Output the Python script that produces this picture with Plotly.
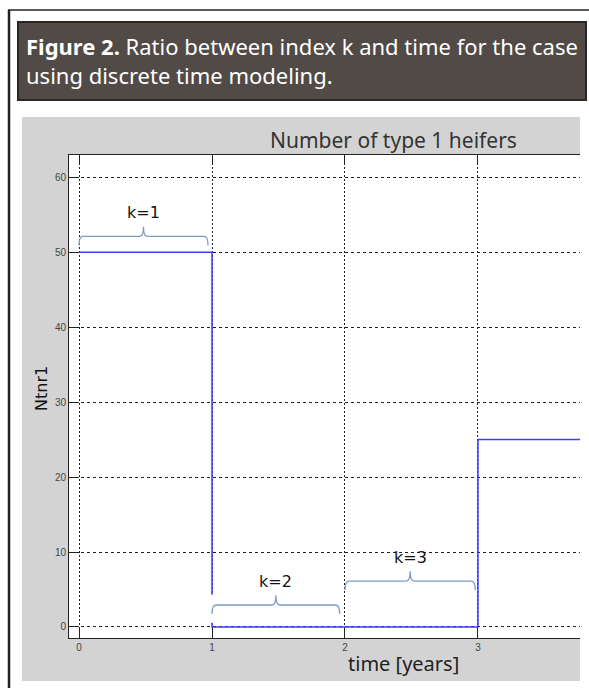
import plotly.graph_objects as go

# ---- data ----
time_years = [0, 1, 2, 3, 4]
ntnr1 = [50, 0, 0, 25, 25]
x_ticks = [0, 1, 2, 3]
y_ticks = [0, 10, 20, 30, 40, 50, 60]
k_labels = ["k=1", "k=2", "k=3"]
k_start = [0, 1, 2]
k_end = [1, 2, 3]

# ---- layout config ----
W, H = 589, 688
L, R, T, B = 69, 589 - 580, 155, 688 - 638
PW, PH = W - L - R, H - T - B

def px(xp):
    return (xp - L) / PW

def py(yp):
    return (H - B - yp) / PH

x_range = [-0.0752, 3.767]
y_range = [-1.47, 62.97]
brace_levels = [52.1, 2.93, 6.13]
brace_inset = [(0.0, 0.03), (0.0, 0.04), (0.0, 0.02)]

fig = go.Figure()
fig.add_trace(go.Scatter(
    x=time_years, y=ntnr1, mode="lines", line_shape="hv",
    line=dict(color="#3d3dff", width=1.5), hoverinfo="skip", showlegend=False))

shapes = []
# outer frame
shapes.append(dict(type="line", xref="paper", yref="paper", x0=px(9), x1=px(9), y0=py(10), y1=py(700),
                   line=dict(color="#222", width=2.5), layer="below"))
shapes.append(dict(type="line", xref="paper", yref="paper", x0=px(8), x1=px(600), y0=py(10), y1=py(10),
                   line=dict(color="#222", width=1.5), layer="below"))
# header box
shapes.append(dict(type="rect", xref="paper", yref="paper", x0=px(18), x1=px(586), y0=py(22), y1=py(100),
                   fillcolor="#524a47", line=dict(color="#2a2624", width=2), layer="below"))
# gray panel
shapes.append(dict(type="rect", xref="paper", yref="paper", x0=px(22), x1=px(580), y0=py(117), y1=py(681),
                   fillcolor="#d3d3d3", line=dict(width=0), layer="below"))
# white plot area
shapes.append(dict(type="rect", xref="paper", yref="paper", x0=0, x1=1, y0=0, y1=1,
                   fillcolor="white", line=dict(width=0), layer="below"))
# white mask where the k=2 brace image covers the line
shapes.append(dict(type="rect", xref="x", yref="y", x0=0.97, x1=1.03, y0=0.55, y1=4.3,
                   fillcolor="white", line=dict(width=0), layer="above"))

ex, d, u = 0.03, 1.2, 1.3
annotations = []
for lab, s, e, lev, (a, b) in zip(k_labels, k_start, k_end, brace_levels, brace_inset):
    x0, x1 = s + a, e - b
    xm = (x0 + x1) / 2
    path = (f"M {x0},{lev-d} Q {x0},{lev} {x0+ex},{lev} L {xm-ex},{lev} "
            f"Q {xm},{lev} {xm},{lev+u} Q {xm},{lev} {xm+ex},{lev} "
            f"L {x1-ex},{lev} Q {x1},{lev} {x1},{lev-d}")
    shapes.append(dict(type="path", xref="x", yref="y", path=path,
                       line=dict(color="#7c9cc6", width=1.3), layer="above"))
    annotations.append(dict(x=xm, y=lev, xref="x", yref="y", text=lab, showarrow=False,
                            xanchor="center", yanchor="middle", yshift=24,
                            font=dict(family="DejaVu Sans", size=16, color="#111")))

# header text
annotations.append(dict(x=px(24), y=py(61), xref="paper", yref="paper", xanchor="left", yanchor="middle",
                        align="left", showarrow=False,
                        text="<b>Figure 2.</b> Ratio between index k and time for the case<br>using discrete time modeling.",
                        font=dict(family="Noto Sans", size=22, color="white")))
# title
annotations.append(dict(x=px(393), y=py(140), xref="paper", yref="paper", showarrow=False,
                        text="Number of type 1 heifers", xanchor="center", yanchor="middle",
                        font=dict(family="Noto Sans", size=21, color="#333")))
# x title
annotations.append(dict(x=px(403), y=py(663), xref="paper", yref="paper", showarrow=False,
                        text="time [years]", xanchor="center", yanchor="middle",
                        font=dict(family="Noto Sans", size=20, color="#222")))
# y title
annotations.append(dict(x=px(41), y=py(389), xref="paper", yref="paper", showarrow=False,
                        text="Ntnr1", textangle=-90, xanchor="center", yanchor="middle",
                        font=dict(family="DejaVu Sans", size=16, color="#111")))

fig.update_layout(
    width=W, height=H, margin=dict(l=L, r=R, t=T, b=B),
    paper_bgcolor="white", plot_bgcolor="white",
    shapes=shapes, annotations=annotations, showlegend=False,
    xaxis=dict(range=x_range, tickvals=x_ticks, ticks="inside", ticklen=10, tickcolor="#222",
               showline=True, linecolor="#222", linewidth=1, mirror="ticks",
               showgrid=True, gridcolor="#222", griddash="2px,2px", gridwidth=1,
               zeroline=False, tickfont=dict(family="Liberation Sans", size=10, color="#444")),
    yaxis=dict(range=y_range, tickvals=y_ticks, ticks="inside", ticklen=10, tickcolor="#222",
               showline=True, linecolor="#222", linewidth=1, mirror=False,
               showgrid=True, gridcolor="#222", griddash="3px,3px", gridwidth=1,
               zeroline=False, tickfont=dict(family="Liberation Sans", size=10, color="#444")),
)

fig.write_html("out.html", config={"displayModeBar": False},
               post_script="document.body.style.margin='0';document.body.style.overflow='hidden';")
